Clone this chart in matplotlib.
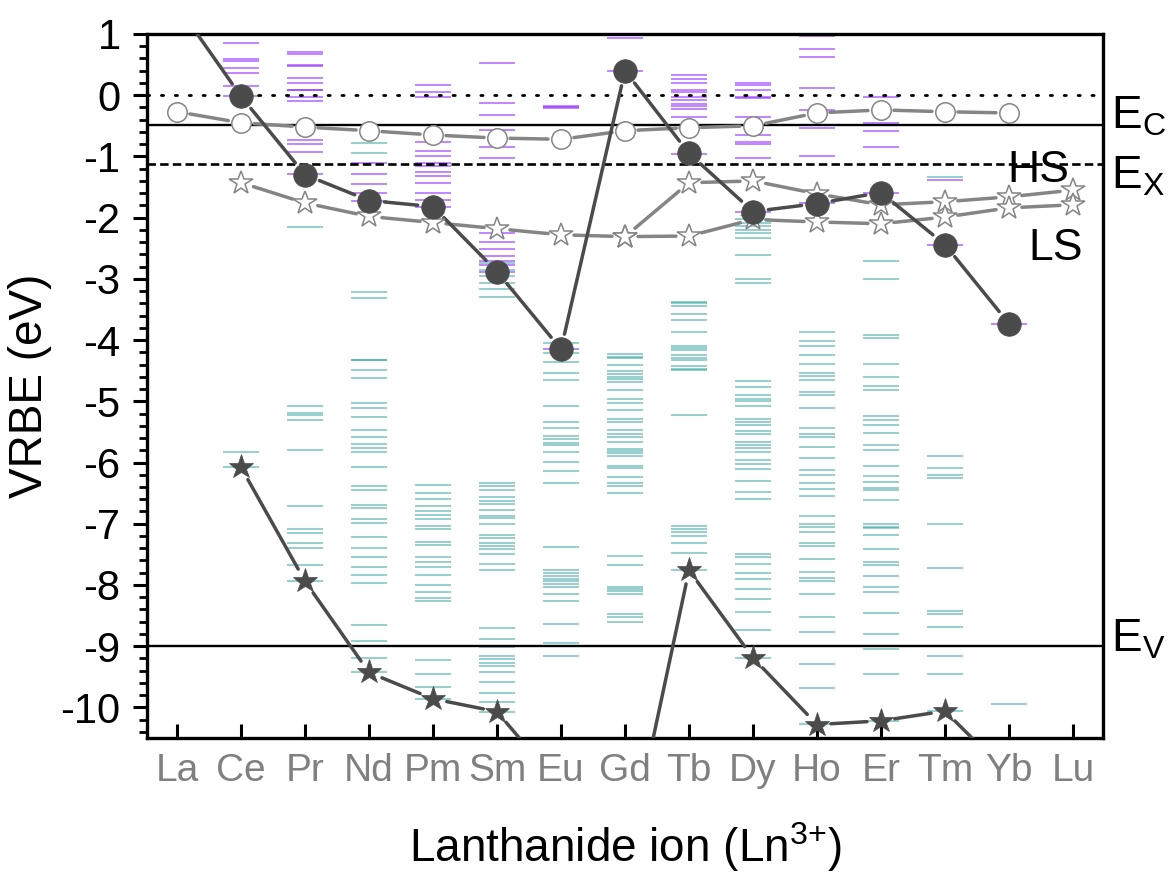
import numpy as np
import matplotlib
matplotlib.use("Agg")
import matplotlib.pyplot as plt
from matplotlib.ticker import MultipleLocator

plt.rcParams['font.family'] = ['Liberation Sans', 'DejaVu Sans']
plt.rcParams['mathtext.fontset'] = 'custom'
plt.rcParams['mathtext.rm'] = 'Liberation Sans'
plt.rcParams['mathtext.it'] = 'Liberation Sans:italic'
plt.rcParams['mathtext.bf'] = 'Liberation Sans:bold'

nan = np.nan
ions = ['La', 'Ce', 'Pr', 'Nd', 'Pm', 'Sm', 'Eu', 'Gd', 'Tb', 'Dy', 'Ho', 'Er', 'Tm', 'Yb', 'Lu']

# filled circles (Ln2+ ground state)
ln2_ground = [1.47, -0.02, -1.30, -1.72, -1.82, -2.88, -4.15, 0.40, -0.95, -1.90, -1.77, -1.59, -2.44, -3.73, nan]
# filled stars (Ln3+ ground state)
ln3_ground = [nan, -6.08, -7.94, -9.43, -9.86, -10.07, -11.3, -12.66, -7.76, -9.19, -10.28, -10.22, -10.06, -11.1, nan]
# open circles
ln2_5d = [-0.27, -0.45, -0.52, -0.58, -0.65, -0.70, -0.72, -0.58, -0.53, -0.50, -0.29, -0.24, -0.27, -0.29, nan]
# open stars: common part + HS / LS branches
ln3_5d_common = [nan, -1.43, -1.76, -1.98, -2.08, -2.18, -2.28, -2.31, nan, nan, nan, nan, nan, nan, nan]
ln3_5d_HS = [nan, nan, nan, nan, nan, nan, nan, -2.31, -1.43, -1.40, -1.61, -1.79, -1.74, -1.66, -1.55]
ln3_5d_LS = [nan, nan, nan, nan, nan, nan, nan, -2.31, -2.30, -2.03, -2.07, -2.10, -1.99, -1.84, -1.79]

# reference energies
E_C = -0.49
E_X = -1.12
E_V = -9.0
E_zero = 0.0

# 4f levels of Ln2+ (purple)
purple_Ce = [0.86, 0.59, 0.56, 0.44, 0.36, 0.15, -0.02]
purple_Pr = [0.70, 0.67, 0.49, 0.47, 0.28, 0.20, 0.09, 0.08, -0.03, -0.10, -0.73, -0.79, -0.93, -1.29]
purple_Nd = [-1.11, -1.28, -1.45, -1.60, -1.73]
purple_Pm = [0.16, 0.05, -0.03, -0.77, -0.91, -1.00, -1.11, -1.16, -1.25, -1.32, -1.44, -1.60, -1.71, -1.83]
purple_Sm = [0.53, -0.13, -0.32, -0.57, -0.84, -1.03, -2.25, -2.39, -2.51, -2.63, -2.71, -2.77, -2.88]
purple_Eu = [-0.17, -0.19, -0.21, -4.15]
purple_Gd = [0.93, 0.40]
purple_Tb = [0.33, 0.26, 0.20, 0.09, 0.06, -0.03, -0.07, -0.15, -0.17, -0.23, -0.36, -0.54, -0.96]
purple_Dy = [0.20, 0.17, 0.09, -0.03, -0.05, -0.36, -0.65, -0.77, -0.79, -1.02, -1.90]
purple_Ho = [0.97, 0.76, 0.62, 0.11, -0.24, -0.54, -1.00, -1.76]
purple_Er = [-0.03, -0.45, -0.58, -0.85, -1.59]
purple_Tm = [-1.38, -2.44]
purple_Yb = [-3.73]

# 4f levels of Ln3+ (teal)
teal_Ce = [-5.83, -6.08]
teal_Pr = [-2.15, -5.07, -5.19, -5.22, -5.30, -5.80, -6.71, -7.09, -7.15, -7.32, -7.40, -7.67, -7.94]
teal_Nd = [-0.78, -0.94, -3.22, -3.31, -4.32, -4.33, -4.49, -4.62, -5.02, -5.11, -5.25, -5.47, -5.58, -5.69,
           -5.76, -5.83, -6.08, -6.38, -6.45, -6.69, -6.75, -6.93, -6.99, -7.22, -7.39, -7.54, -7.70,
           -7.83, -7.96, -8.66, -8.92, -9.19, -9.43]
teal_Pm = [-6.37, -6.49, -6.59, -6.71, -6.79, -6.85, -6.93, -7.03, -7.09, -7.30, -7.35, -7.54, -7.62,
           -7.70, -7.84, -8.00, -8.11, -8.21, -8.26, -9.22, -9.46, -9.67, -9.86]
teal_Sm = [-2.74, -2.85, -2.95, -3.06, -3.16, -3.29, -6.33, -6.38, -6.45, -6.56, -6.63, -6.68, -6.78,
           -6.87, -6.91, -7.01, -7.19, -7.23, -7.31, -7.36, -7.42, -7.50, -7.65, -7.76, -8.71, -8.89,
           -9.02, -9.16, -9.21, -9.27, -9.32, -9.43, -9.59, -9.77, -9.92, -10.07]
teal_Eu = [-4.04, -4.21, -4.35, -4.54, -4.66, -5.08, -5.33, -5.43, -5.57, -5.61, -5.68, -5.72, -5.82,
           -5.99, -6.14, -6.34, -7.38, -7.76, -7.80, -7.85, -7.90, -7.93, -7.99, -8.04, -8.14, -8.26,
           -8.63, -8.94, -9.16]
teal_Gd = [-4.23, -4.27, -4.30, -4.41, -4.50, -4.55, -4.60, -4.63, -4.68, -4.81, -4.96, -5.02, -5.15,
           -5.29, -5.34, -5.47, -5.53, -5.58, -5.66, -5.78, -5.81, -5.85, -5.89, -6.05, -6.09, -6.24,
           -6.33, -6.39, -6.50, -7.52, -7.67, -8.04, -8.07, -8.10, -8.15, -8.48, -8.53, -8.61]
teal_Tb = [-3.38, -3.40, -3.44, -3.57, -3.67, -3.87, -4.10, -4.13, -4.16, -4.24, -4.29, -4.32, -4.42,
           -4.48, -4.49, -5.22, -7.04, -7.08, -7.14, -7.20, -7.32, -7.48, -7.76]
teal_Dy = [-2.03, -2.09, -2.14, -2.20, -2.25, -2.33, -2.61, -3.00, -3.07, -4.67, -4.76, -4.89, -4.96,
           -5.00, -5.07, -5.29, -5.34, -5.39, -5.49, -5.53, -5.67, -5.71, -5.76, -5.82, -5.96, -6.02,
           -6.10, -6.31, -6.48, -6.59, -7.49, -7.54, -7.65, -7.81, -7.91, -8.06, -8.23, -8.44, -8.73,
           -9.19]
teal_Ho = [-3.86, -4.02, -4.09, -4.24, -4.39, -4.54, -4.58, -4.65, -4.84, -4.89, -5.11, -5.43, -5.53,
           -5.58, -5.74, -5.92, -6.12, -6.21, -6.34, -6.43, -6.54, -6.88, -7.01, -7.05, -7.14, -7.32,
           -7.36, -7.58, -7.79, -7.88, -7.93, -8.15, -8.52, -8.77, -9.29, -9.69, -10.27]
teal_Er = [-2.70, -3.01, -3.91, -3.96, -4.39, -4.61, -4.75, -4.82, -5.24, -5.31, -5.38, -5.51, -5.72,
           -5.79, -6.06, -6.22, -6.32, -6.42, -6.45, -6.61, -7.00, -7.05, -7.07, -7.19, -7.41, -7.63,
           -7.67, -7.86, -8.03, -8.11, -8.46, -8.80, -9.04, -9.46, -10.22]
teal_Tm = [-1.34, -5.90, -6.09, -6.20, -6.26, -7.01, -7.73, -8.42, -8.48, -8.68, -9.16, -9.45, -10.06]
teal_Yb = [-9.95]

purple_levels = {'Ce': purple_Ce, 'Pr': purple_Pr, 'Nd': purple_Nd, 'Pm': purple_Pm, 'Sm': purple_Sm,
                 'Eu': purple_Eu, 'Gd': purple_Gd, 'Tb': purple_Tb, 'Dy': purple_Dy, 'Ho': purple_Ho,
                 'Er': purple_Er, 'Tm': purple_Tm, 'Yb': purple_Yb}
teal_levels = {'Ce': teal_Ce, 'Pr': teal_Pr, 'Nd': teal_Nd, 'Pm': teal_Pm, 'Sm': teal_Sm, 'Eu': teal_Eu,
               'Gd': teal_Gd, 'Tb': teal_Tb, 'Dy': teal_Dy, 'Ho': teal_Ho, 'Er': teal_Er, 'Tm': teal_Tm,
               'Yb': teal_Yb}

W, H = 1169, 874
fig = plt.figure(figsize=(W / 100, H / 100), dpi=100)
ax = fig.add_axes([147 / W, 1 - 738 / H, (1103 - 147) / W, (738 - 34) / H])
x = np.arange(len(ions))
ax.set_xlim(-0.47, 14.47)
ax.set_ylim(-10.5, 1.0)

# energy levels
hw = 0.28
for i, ion in enumerate(ions):
    if ion in teal_levels:
        ax.hlines(teal_levels[ion], i - hw, i + hw, colors='#2e9e9e', lw=1.4, alpha=0.5, zorder=1.5)
    if ion in purple_levels:
        ax.hlines(purple_levels[ion], i - hw, i + hw, colors='#9933ff', lw=1.4, alpha=0.6, zorder=1.6)

# reference lines
ax.axhline(E_zero, color='black', lw=2.0, ls=(0, (0.8, 4.2)), dash_capstyle='round', zorder=2)
ax.axhline(E_C, color='black', lw=1.7, zorder=2)
ax.axhline(E_X, color='black', lw=1.9, ls=(0, (3.2, 1.6)), zorder=2)
ax.axhline(E_V, color='black', lw=1.7, zorder=2)


def gapped_line(xs, ys, gap_px, **kw):
    xs = np.asarray(xs, float)
    ys = np.asarray(ys, float)
    pts = ax.transData.transform(np.column_stack([xs, ys]))
    inv = ax.transData.inverted()
    for i in range(len(xs) - 1):
        if np.isnan(ys[i]) or np.isnan(ys[i + 1]):
            continue
        p0, p1 = pts[i], pts[i + 1]
        d = p1 - p0
        L = np.hypot(*d)
        if L <= 2 * gap_px:
            continue
        u = d / L
        a, b = inv.transform(np.array([p0 + u * gap_px, p1 - u * gap_px]))
        ax.plot([a[0], b[0]], [a[1], b[1]], solid_capstyle='round', **kw)


dark = '#4b4b4b'
gray = '#858585'

# open circle series
gapped_line(x, ln2_5d, 13, color=gray, lw=2.5, zorder=3)
ax.plot(x, ln2_5d, ls='none', marker='o', ms=14, mfc='white', mec=gray, mew=1.1, zorder=4)

# open star series
for s in (ln3_5d_common, ln3_5d_HS, ln3_5d_LS):
    gapped_line(x, s, 13, color=gray, lw=2.5, zorder=3)
for s in (ln3_5d_common, ln3_5d_HS, ln3_5d_LS):
    ax.plot(x, s, ls='none', marker='*', ms=17.5, mfc='white', mec=gray, mew=1.1, zorder=4)

# filled circles
gapped_line(x, ln2_ground, 15.5, color=dark, lw=2.5, zorder=3.2)
ax.plot(x, ln2_ground, ls='none', marker='o', ms=17, mfc=dark, mec=dark, mew=0.5, zorder=4.2)

# filled stars
gapped_line(x, ln3_ground, 14, color=dark, lw=2.5, zorder=3.2)
ax.plot(x, ln3_ground, ls='none', marker='*', ms=18.5, mfc=dark, mec=dark, mew=0.5, zorder=4.2)

# text labels
ax.text(12.97, -1.41, 'HS', fontsize=32, ha='left', va='baseline', zorder=5)
ax.text(13.31, -2.69, 'LS', fontsize=32, ha='left', va='baseline', zorder=5)
tr = ax.get_yaxis_transform()
ax.text(1.008, E_C - 0.05, r'E$_\mathrm{C}$', transform=tr, fontsize=33, ha='left', va='baseline', clip_on=False)
ax.text(1.008, -1.53, r'E$_\mathrm{X}$', transform=tr, fontsize=33, ha='left', va='baseline', clip_on=False)
ax.text(1.008, E_V - 0.08, r'E$_\mathrm{V}$', transform=tr, fontsize=33, ha='left', va='baseline', clip_on=False)

# axes styling
for sp in ax.spines.values():
    sp.set_linewidth(2.4)
ax.set_xticks(x)
ax.set_xticklabels(ions, color='#808080', fontsize=28)
ax.tick_params(axis='x', direction='in', length=10, width=2.2, pad=11, top=False)
ax.yaxis.set_major_locator(MultipleLocator(1))
ax.yaxis.set_minor_locator(MultipleLocator(0.2))
ax.tick_params(axis='y', which='major', direction='out', length=10, width=2.2, labelsize=30, pad=9, right=False)
ax.tick_params(axis='y', which='minor', direction='out', length=5.5, width=2.0, right=False)
ax.set_yticks(np.arange(-10, 2, 1))
ax.set_yticklabels([str(v) for v in range(-10, 2)])
ax.set_ylim(-10.5, 1.0)
ax.set_xlabel(r'Lanthanide ion (Ln$^{\text{3+}}$)', fontsize=33, labelpad=22)
ax.set_ylabel('VRBE (eV)', fontsize=33, labelpad=6)

fig.savefig('out.png', dpi=100)
